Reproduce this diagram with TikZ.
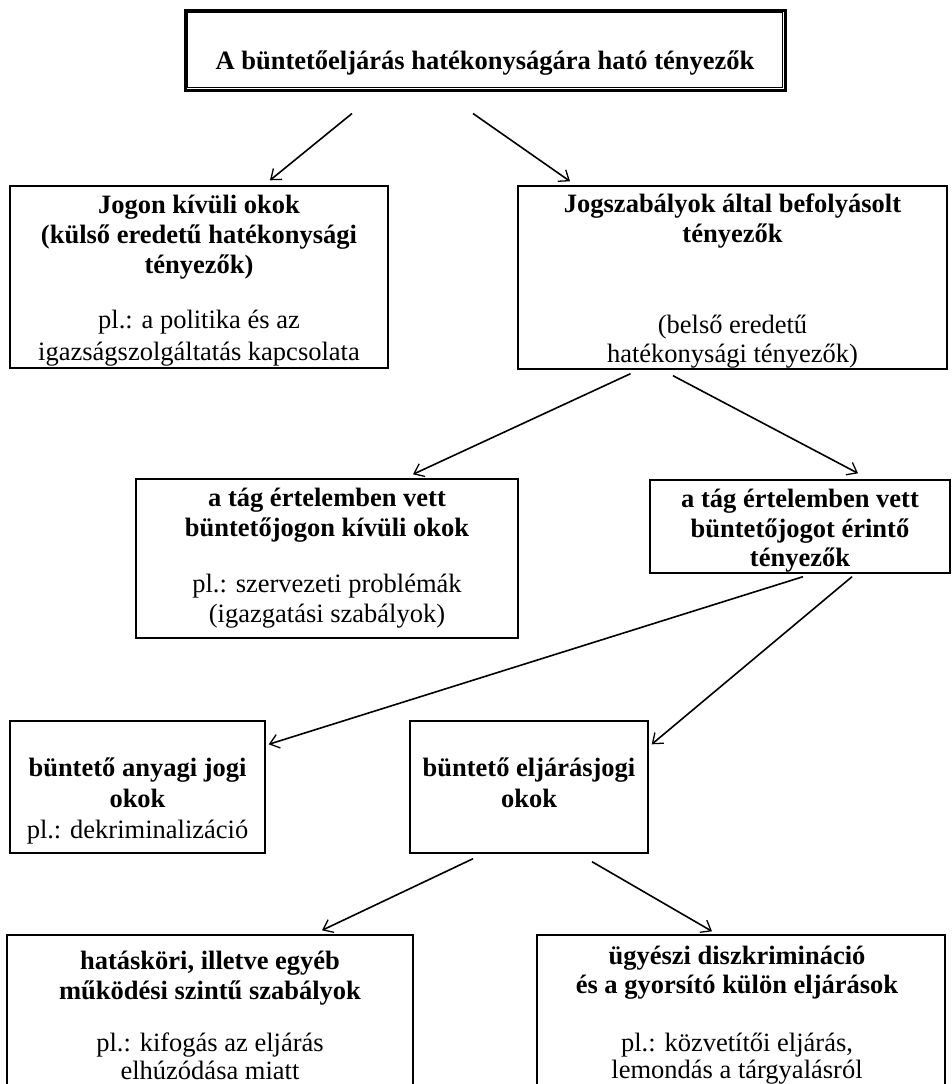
\documentclass[tikz,border=0pt]{standalone}
\usepackage{fontspec}
\setmainfont{Liberation Serif}
\usetikzlibrary{arrows.meta}
\begin{document}
\begin{tikzpicture}[x=1pt,y=-1pt,
  box/.style={draw, line width=1.4pt, rectangle, inner sep=0pt},
  bt/.style={font=\fontsize{26.5}{30.5}\selectfont\bfseries, anchor=base, inner sep=0pt},
  rt/.style={font=\fontsize{26.5}{30.5}\selectfont, anchor=base, inner sep=0pt},
  arr/.style={line width=1.6pt, -{Straight Barb[length=9pt,width=14pt,line width=1.3pt]}}]
\useasboundingbox (0,0) rectangle (952,1084);
% boxes
\node[box, line width=3pt, minimum width=600pt, minimum height=80pt] (root) at (485,50) {};
\draw[line width=1pt] ([shift={(4,4)}]root.north west) rectangle ([shift={(-4,-4)}]root.south east);
\node[box, minimum width=378pt, minimum height=182pt] (b2) at (199,277) {};
\node[box, minimum width=429pt, minimum height=183pt] (b3) at (732.5,277.5) {};
\node[box, minimum width=382pt, minimum height=159pt] (b4) at (327,558.5) {};
\node[box, minimum width=300pt, minimum height=93pt] (b5) at (800,526.5) {};
\node[box, minimum width=255pt, minimum height=132pt] (b6) at (137.5,787) {};
\node[box, minimum width=238pt, minimum height=132pt] (b7) at (529,787) {};
\node[box, minimum width=406pt, minimum height=165pt] (b8) at (210,1017.5) {};
\node[box, minimum width=408pt, minimum height=165pt] (b9) at (741,1017.5) {};
% texts
\node[bt] (t1) at (485,69) {A büntetőeljárás hatékonyságára ható tényezők};
\node[bt] (t2a) at (199,213) {Jogon kívüli okok};
\node[bt] (t2b) at (199,243) {(külső eredetű hatékonysági};
\node[bt] (t2c) at (199,273) {tényezők)};
\node[rt] (t2d) at (199,328) {pl.: a politika és az};
\node[rt] (t2e) at (199,360) {igazságszolgáltatás kapcsolata};
\node[bt] (t3a) at (732.5,212) {Jogszabályok által befolyásolt};
\node[bt] (t3b) at (732.5,242) {tényezők};
\node[rt] (t3c) at (732.5,333) {(belső eredetű};
\node[rt] (t3d) at (732.5,362) {hatékonysági tényezők)};
\node[bt] (t4a) at (327,506) {a tág értelemben vett};
\node[bt] (t4b) at (327,536) {büntetőjogon kívüli okok};
\node[rt] (t4c) at (327,592) {pl.: szervezeti problémák};
\node[rt] (t4d) at (327,622) {(igazgatási szabályok)};
\node[bt] (t5a) at (800,507) {a tág értelemben vett};
\node[bt] (t5b) at (800,537) {büntetőjogot érintő};
\node[bt] (t5c) at (800,566) {tényezők};
\node[bt] (t6a) at (137.5,776) {büntető anyagi jogi};
\node[bt] (t6b) at (137.5,807) {okok};
\node[rt] (t6c) at (137.5,838) {pl.: dekriminalizáció};
\node[bt] (t7a) at (529,776) {büntető eljárásjogi};
\node[bt] (t7b) at (529,807) {okok};
\node[bt] (t8a) at (210,969) {hatásköri, illetve egyéb};
\node[bt] (t8b) at (210,999) {működési szintű szabályok};
\node[rt] (t8c) at (210,1051) {pl.: kifogás az eljárás};
\node[rt] (t8d) at (210,1079) {elhúzódása miatt};
\node[bt] (t9a) at (737,964) {ügyészi diszkrimináció};
\node[bt] (t9b) at (737,993) {és a gyorsító külön eljárások};
\node[rt] (t9c) at (737,1051) {pl.: közvetítői eljárás,};
\node[rt] (t9d) at (737,1078) {lemondás a tárgyalásról};
% connectors
\draw[arr] ([shift={(-133,22)}]root.south) -- ([shift={(71,-5)}]b2.north);
\draw[arr] ([shift={(-12,22)}]root.south) -- ([shift={(-162.5,-4)}]b3.north);
\draw[arr] ([shift={(-102,4)}]b3.south) -- ([shift={(86,-4)}]b4.north);
\draw[arr] ([shift={(-59.5,6)}]b3.south) -- ([shift={(58,-6)}]b5.north);
\draw[arr] ([shift={(3,3)}]b5.south) -- ([shift={(3,24)}]b6.north east);
\draw[arr] ([shift={(52,3)}]b5.south) -- ([shift={(3,24)}]b7.north east);
\draw[arr] ([shift={(-56,5)}]b7.south) -- ([shift={(112,-4)}]b8.north);
\draw[arr] ([shift={(63,8)}]b7.south) -- ([shift={(-29,-3)}]b9.north);
\end{tikzpicture}
\end{document}
